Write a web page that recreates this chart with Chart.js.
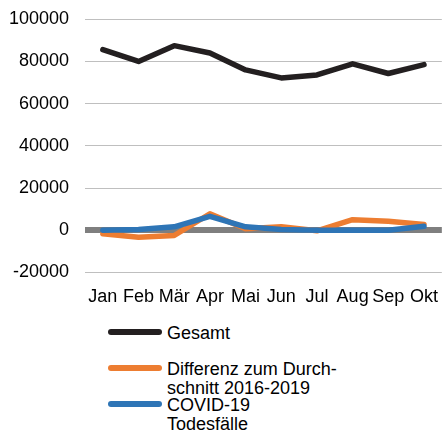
<!DOCTYPE html>
<html>
<head>
<meta charset="utf-8">
<script src="https://cdn.jsdelivr.net/npm/chart.js@4"></script>
<style>
  body { margin: 0; background: #fff; font-family: "Liberation Sans", Arial, sans-serif; }
  #wrap { position: relative; width: 444px; height: 432px; }
  #box { position: absolute; left: 0; top: 0; width: 444px; height: 314px; }
  .leg { position: absolute; left: 108px; font-size: 18px; line-height: 19px; color: #000; }
  .leg .ln { position: absolute; left: 0; width: 54px; height: 6px; border-radius: 3px; }
  .leg .tx { position: absolute; left: 59px; top: -8px; white-space: nowrap; }
</style>
</head>
<body>
<div id="wrap">
  <div id="box"><canvas id="deathChart"></canvas></div>
  <div class="leg" style="top:332px"><div class="ln" style="background:#231f20;top:-3px"></div><div class="tx">Gesamt</div></div>
  <div class="leg" style="top:368px"><div class="ln" style="background:#ed7d31;top:-3px"></div><div class="tx">Differenz zum Durch-<br>schnitt 2016-2019</div></div>
  <div class="leg" style="top:404px"><div class="ln" style="background:#2e75b6;top:-3px"></div><div class="tx">COVID-19<br>Todesfälle</div></div>
</div>
<script>
const months = ['Jan', 'Feb', 'Mär', 'Apr', 'Mai', 'Jun', 'Jul', 'Aug', 'Sep', 'Okt'];
const gesamt = [85600, 80000, 87500, 84000, 76000, 72200, 73600, 78900, 74300, 78500];
const differenz = [-1700, -3300, -2500, 7800, 700, 1600, -300, 5000, 4300, 2700];
const covid = [0, 300, 1600, 6600, 1600, 300, 0, 0, 0, 1900];
const yTicks = [-20000, 0, 20000, 40000, 60000, 80000, 100000];

const ctx = document.getElementById('deathChart').getContext('2d');
const chart = new Chart(ctx, {
    type: 'line',
    data: {
        labels: months,
        datasets: [{
            label: 'Gesamt',
            data: gesamt,
            borderColor: '#231f20',
            order: 3
        }, {
            label: 'Differenz zum Durchschnitt 2016-2019',
            data: differenz,
            borderColor: '#ed7d31',
            order: 2
        }, {
            label: 'COVID-19 Todesfälle',
            data: covid,
            borderColor: '#2e75b6',
            order: 1
        }]
    },
    options: {
        responsive: true,
        maintainAspectRatio: false,
        animation: false,
        layout: { padding: { top: 0, right: 0, left: 0, bottom: 0 } },
        elements: {
            line: { borderWidth: 5.5, tension: 0, borderCapStyle: 'round', borderJoinStyle: 'round' },
            point: { radius: 0 }
        },
        scales: {
            x: {
                offset: true,
                grid: { display: false },
                border: { display: false },
                ticks: {
                    color: '#000',
                    font: { family: 'Liberation Sans', size: 18 },
                    autoSkip: false,
                    maxRotation: 0,
                    padding: 6
                }
            },
            y: {
                min: -20000,
                max: 100000,
                afterFit: function(axis) {
                    axis.width = 85;
                    axis.paddingTop = 19.3;
                    axis.paddingBottom = 0;
                },
                afterBuildTicks: function(axis) {
                    axis.ticks = yTicks.map(function(v) { return { value: v }; });
                },
                border: { display: false },
                grid: {
                    drawTicks: false,
                    color: function(c) { return c.tick.value === 0 ? '#7f7f7f' : '#bfbfbf'; },
                    lineWidth: function(c) { return c.tick.value === 0 ? 6 : 1; }
                },
                ticks: {
                    color: '#000',
                    font: { family: 'Liberation Sans', size: 18 },
                    padding: 16,
                    callback: function(value) { return String(value); }
                }
            }
        },
        plugins: {
            legend: { display: false },
            tooltip: { enabled: false }
        }
    }
});
</script>
</body>
</html>
